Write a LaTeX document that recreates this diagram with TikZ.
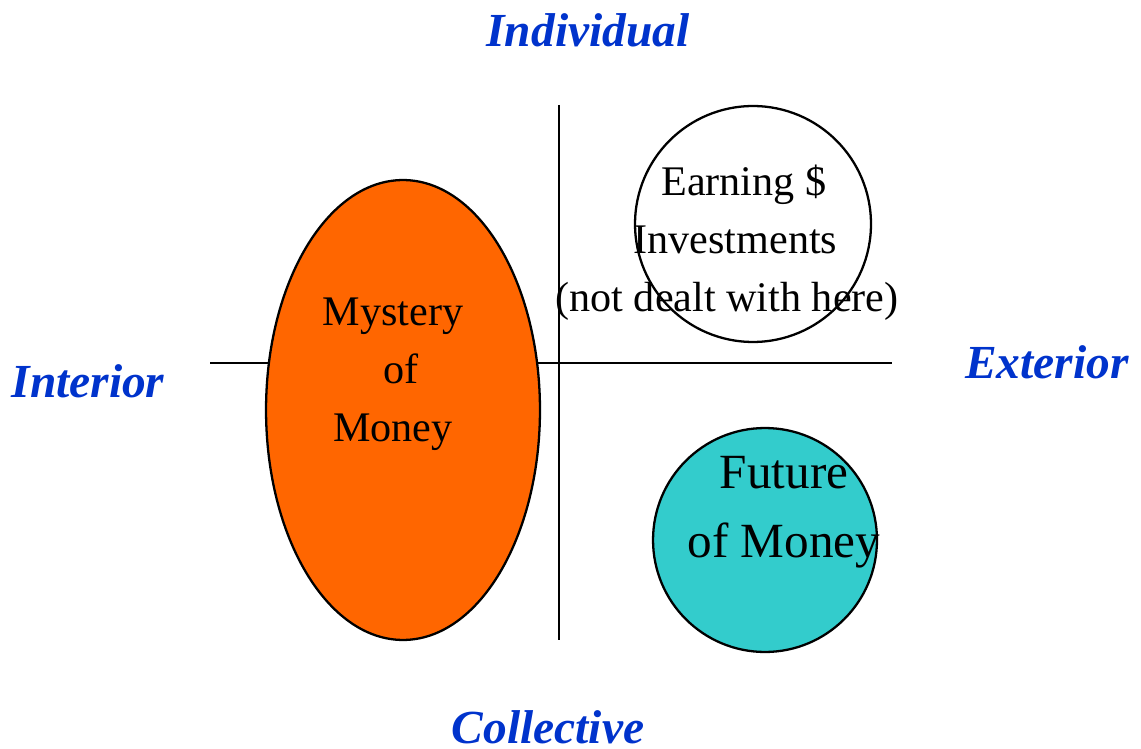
\documentclass[tikz,border=0pt]{standalone}
\usepackage{fontspec}
\setmainfont{Liberation Serif}
\usetikzlibrary{shapes.geometric}
\definecolor{moneyorange}{HTML}{FF6600}
\definecolor{moneyteal}{HTML}{33CCCC}
\definecolor{axisblue}{HTML}{0033CC}
\tikzset{
	axisline/.style={line width=1.3pt},
	axislabel/.style={text=axisblue, inner sep=0pt, font=\fontsize{27}{32}\selectfont\bfseries\itshape},
	blob/.style={draw=black, line width=1.3pt, inner sep=0pt},
	blobtext/.style={align=center, font=\fontsize{24}{33}\selectfont},
}
\begin{document}
\begin{tikzpicture}[x=0.02cm, y=-0.02cm]
	\useasboundingbox (0,0) rectangle (1141,749);
	% the two axes
	\coordinate (top) at (559,105);
	\coordinate (bottom) at (559,640);
	\coordinate (left) at (210,363);
	\coordinate (right) at (892,363);
	\draw[axisline] (top) -- (bottom);
	\draw[axisline] (left) -- (right);
	% quadrant shapes
	\node[blob, ellipse, fill=moneyorange, minimum width=5.48cm, minimum height=9.2cm] (mystery) at (403,410) {};
	\node[blob, circle, fill=white, minimum size=4.72cm] (earning) at (753,224) {};
	\node[blob, circle, fill=moneyteal, minimum size=4.48cm] (future) at (765,540) {};
	% texts
	\node[blobtext] (mysterytext) at (393,374) {Mystery\\\hspace{0.4em}of\\Money};
	\node[blobtext] (earningtext) at (727,243) {\hspace{0.8em}Earning \$\\\hspace{0.4em}Investments\\(not dealt with here)};
	\node[blobtext, font=\fontsize{28}{39}\selectfont] (futuretext) at (784,512) {Future\\of Money};
	% axis labels
	\node[axislabel] (individual) at (588,30) {Individual};
	\node[axislabel] (interior) at (88,381) {Interior};
	\node[axislabel] (exterior) at (1047,362) {Exterior};
	\node[axislabel] (collective) at (548,727) {Collective};
\end{tikzpicture}
\end{document}
